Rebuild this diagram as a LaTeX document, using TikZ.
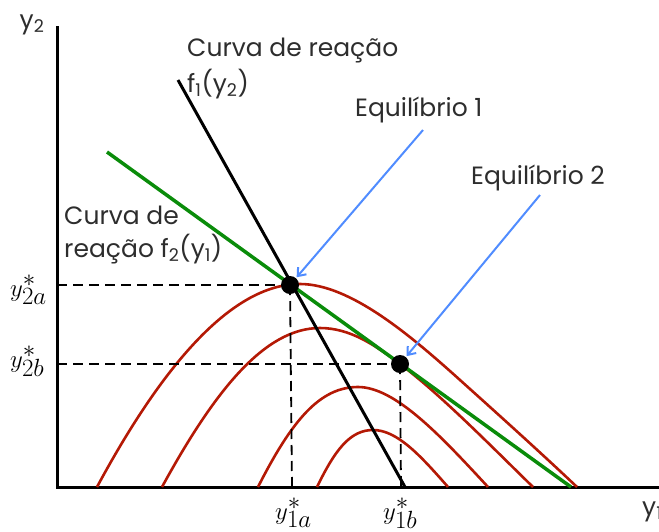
\documentclass[tikz,border=0pt]{standalone}
\usepackage{fontspec}
\setmainfont{Poppins}
\usetikzlibrary{arrows.meta}
\definecolor{redc}{RGB}{180,25,5}
\definecolor{greenc}{RGB}{10,140,10}
\definecolor{bluec}{RGB}{80,140,255}
\definecolor{txt}{RGB}{45,45,45}
\tikzset{
  axisline/.style={line width=3pt, line cap=rect},
  reactone/.style={line width=3pt, black},
  reacttwo/.style={line width=3.5pt, greenc},
  isoprofit/.style={line width=2.6pt, redc},
  guide/.style={line width=1.8pt, dash pattern=on 10pt off 6pt},
  eqdot/.style={circle, fill=black, inner sep=0pt, minimum size=18pt},
  pointer/.style={line width=2pt, bluec, shorten >=1pt, -{Straight Barb[length=7pt,width=11pt,line width=2pt]}},
  lbl/.style={text=txt, inner sep=0pt, font=\fontsize{25}{33}\selectfont, align=left},
  mathlbl/.style={inner sep=0pt, anchor=base west, font=\fontsize{33}{33}\selectfont}
}
\begin{document}
\begin{tikzpicture}[x=1pt,y=-1pt]
\useasboundingbox (0,0) rectangle (659,531);

% axes
\coordinate (O) at (57,487);
\coordinate (ytop) at (57,27);
\coordinate (xend) at (662,487);
\draw[axisline] (ytop) -- (O) -- (xend);
\node[lbl] (ylab) at (32,25) {y\textsubscript{2}};
\node[lbl, anchor=west] (xlab) at (642,512) {y\textsubscript{1}};

% red isoprofit curves
\draw[isoprofit] (97,487) .. controls (160,370) and (230,284) .. (300,284)
  .. controls (350,284) and (410,335) .. (460,380)
  .. controls (500,416) and (540,452) .. (577,487);
\draw[isoprofit] (162,487) .. controls (215,390) and (265,328) .. (320,328)
  .. controls (350,328) and (375,345) .. (400,364)
  .. controls (440,394) and (490,445) .. (533,487);
\draw[isoprofit] (258,487) .. controls (292,420) and (320,387) .. (358,387)
  .. controls (395,387) and (440,435) .. (488,487);
\draw[isoprofit] (317,487) .. controls (335,450) and (350,430) .. (373,430)
  .. controls (397,430) and (420,455) .. (448,487);

% reaction curves
\coordinate (g1) at (107,152);
\coordinate (g2) at (571,487);
\draw[reacttwo] (g1) -- (g2);
\coordinate (b1) at (178,80);
\coordinate (b2) at (405,487);
\draw[reactone] (b1) -- (b2);

% equilibria
\node[eqdot] (e1) at (290,285) {};
\node[eqdot] (e2) at (400,364) {};

% guides
\coordinate (h1) at (57,285);
\coordinate (h2) at (57,364);
\coordinate (v1) at (292,487);
\coordinate (v2) at (401,487);
\draw[guide] (h1) -- (e1.center);
\draw[guide] (h2) -- (e2.center);
\draw[guide] (e1.center) -- (v1);
\draw[guide] (e2.center) -- (v2);

% labels
\node[lbl, anchor=west] (c1) at (187,50) {Curva de reação};
\node[lbl, anchor=west] (c1b) at (187,84) {f\textsubscript{1}(y\textsubscript{2})};
\node[lbl, anchor=west] (c2) at (64,235) {Curva de\\reação f\textsubscript{2}(y\textsubscript{1})};
\node[lbl, anchor=west] (q1) at (355,110) {Equilíbrio 1};
\node[lbl, anchor=west] (q2) at (471,178) {Equilíbrio 2};

\coordinate (a1) at (423,130);
\coordinate (a2) at (540,195);
\draw[pointer] (a1) -- (e1);
\draw[pointer] (a2) -- (e2);

\node[mathlbl] (m2a) at (10,296) {$y^{*}_{2a}$};
\node[mathlbl] (m2b) at (10,367) {$y^{*}_{2b}$};
\node[mathlbl] (m1a) at (275,519) {$y^{*}_{1a}$};
\node[mathlbl] (m1b) at (383,519) {$y^{*}_{1b}$};
\end{tikzpicture}
\end{document}
